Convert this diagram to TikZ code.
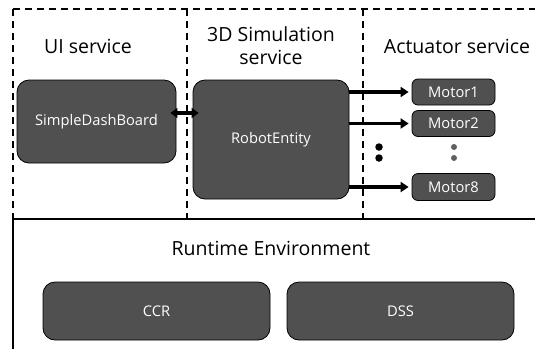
\documentclass[tikz,border=0pt]{standalone}
\usepackage{fontspec}
\setmainfont{Open Sans}
\usetikzlibrary{arrows.meta}
\definecolor{boxgray}{HTML}{505050}
\definecolor{dotgray}{HTML}{606060}
\tikzset{
  box/.style={draw=black, line width=0.8pt, fill=boxgray, text=white, rounded corners=#1, inner sep=0pt},
  box/.default=12pt,
  title/.style={font=\fontsize{19.5}{23}\selectfont, align=center, inner sep=0pt},
  lbl/.style={font=\fontsize{14.7}{17}\selectfont},
  dline/.style={line width=1.2pt, dash pattern=on 7pt off 5pt},
  sline/.style={line width=1.2pt},
  conn/.style={line width=3.4pt, -{Triangle[length=8pt,width=10pt]}},
  bconn/.style={line width=3.4pt, {Triangle[length=7pt,width=10pt]}-{Triangle[length=7pt,width=10pt]}},
  dotb/.style={circle, fill=black, inner sep=0pt, minimum size=7.5pt},
  dotg/.style={circle, fill=dotgray, inner sep=0pt, minimum size=6pt}
}
\begin{document}
\begin{tikzpicture}[x=1pt,y=-1pt]
\useasboundingbox (0,0) rectangle (535,349);
% frame lines
\coordinate (tl) at (13,9);
\coordinate (tr) at (535,9);
\coordinate (ml) at (13,219);
\coordinate (mr) at (535,219);
\coordinate (bl) at (13,349);
\coordinate (d1t) at (187,9);
\coordinate (d1b) at (187,219);
\coordinate (d2t) at (363,9);
\coordinate (d2b) at (363,219);
\draw[dline] (tl) -- (tr);
\draw[dline] (tl) -- (ml);
\draw[dline] (d1t) -- (d1b);
\draw[dline] (d2t) -- (d2b);
\draw[sline] (ml) -- (mr);
\draw[sline] (ml) -- (bl);
% titles
\node[title] (ui) at (88,46) {UI service};
\node[title] (sim) at (271,46) {3D Simulation\\service};
\node[title] (act) at (457,46) {Actuator service};
\node[title] (rt) at (271,248) {Runtime Environment};
% boxes
\node[box, minimum width=159pt, minimum height=83pt, lbl] (sdb) at (96.5,121.5) {SimpleDashBoard};
\node[box, minimum width=156pt, minimum height=119pt, lbl] (re) at (271,139.5) {RobotEntity};
\node[box=6pt, minimum width=83pt, minimum height=26pt, lbl] (m1) at (453.5,92) {Motor1};
\node[box=6pt, minimum width=83pt, minimum height=26pt, lbl] (m2) at (453.5,123.5) {Motor2};
\node[box=6pt, minimum width=83pt, minimum height=27pt, lbl] (m8) at (453.5,187) {Motor8};
\node[box, minimum width=227pt, minimum height=58pt, lbl] (ccr) at (156.5,311) {CCR};
\node[box, minimum width=227pt, minimum height=58pt, lbl] (dss) at (400.5,311) {DSS};
% connectors
\draw[bconn] ([xshift=-6pt]sdb.east |- 0,113) -- ([xshift=6pt]re.west |- 0,113);
\draw[conn] (re.east |- m1.west) -- ([xshift=-3pt]m1.west);
\draw[conn] (re.east |- m2.west) -- ([xshift=-3pt]m2.west);
\draw[conn] (re.east |- m8.west) -- ([xshift=-3pt]m8.west);
% dots
\node[dotb] (b1) at (379,147) {};
\node[dotb] (b2) at (379,158) {};
\node[dotg] (g1) at (454,147) {};
\node[dotg] (g2) at (454,158) {};
\end{tikzpicture}
\end{document}
